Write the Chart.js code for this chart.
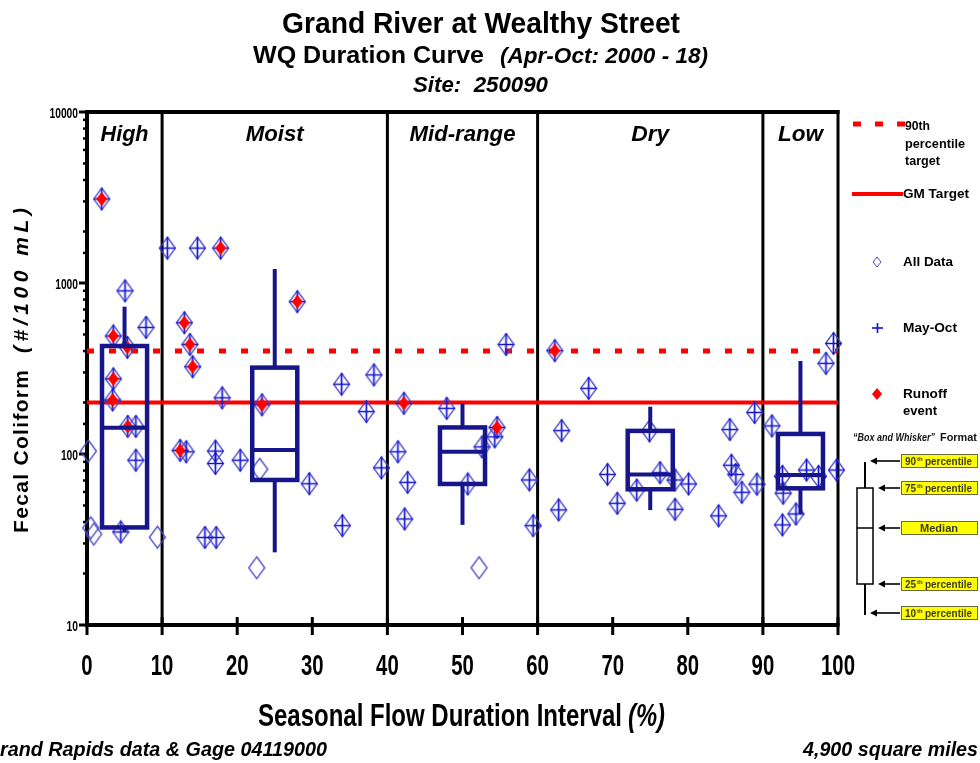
<!DOCTYPE html>
<html>
<head>
<meta charset="utf-8">
<title>Grand River at Wealthy Street - WQ Duration Curve</title>
<script src="https://cdn.jsdelivr.net/npm/chart.js@4/dist/chart.umd.min.js"></script>
<style>
  html, body { margin: 0; padding: 0; background: #fff; overflow: hidden; }
  canvas { display: block; }
</style>
</head>
<body>
<canvas id="wq" width="980" height="763"></canvas>
<script>
// ---- Samples: flow duration interval (%) and fecal coliform (#/100 mL) ----
const flowPct = [
  1.96, 5.06, 7.86, 3.5, 5.37, 3.5, 3.42, 5.42, 6.5, 0.18, 6.5, 0.5, 0.9, 4.5, 9.37,
  10.7, 14.7, 17.8, 12.96, 13.7, 14.07, 28.0, 18.0, 23.3, 12.4, 13.2, 17.1, 17.1, 20.4, 23.0,
  29.6, 15.7, 17.2, 22.6, 33.9, 38.2, 37.2, 39.2, 34.0,
  42.2, 41.4, 42.7, 42.3, 47.9, 54.6, 54.3, 52.6, 50.7, 52.2, 55.8, 58.9, 59.4,
  62.3, 63.2, 62.8, 66.8, 69.3, 70.6, 73.2, 74.9, 76.3, 78.3, 80.1, 78.3, 84.1, 85.6,
  88.9, 85.8, 86.4, 87.2, 89.2,
  91.2, 92.6, 92.7, 92.6, 94.4, 95.8, 97.4, 99.8, 99.4, 98.4
];
const fecal = [
  3100, 900, 550, 490, 420, 275, 207, 145, 145, 104, 92, 37, 34, 35, 32.6,
  1600, 1600, 1600, 586, 437, 324, 778, 213, 194, 105, 103, 104, 88, 92, 81.5,
  67, 32.5, 32.5, 21.6, 256, 290, 177, 83, 38.1,
  198, 103, 68.3, 41.7, 185, 143, 126, 110, 66.8, 21.6, 437, 70.5, 38.1,
  402, 137, 47.1, 242, 76, 51.5, 61.5, 136.5, 77.8, 70.5, 66.8, 47.5, 43.5, 139,
  175, 86, 76, 59.7, 66.6,
  146, 74, 59, 38.5, 44.6, 80.6, 74, 80.6, 443, 339
];
// 1 = sample collected May-Oct
const mayOct = [
  1, 1, 1, 1, 1, 1, 1, 1, 1, 0, 1, 0, 0, 1, 0,
  1, 1, 1, 1, 1, 1, 1, 1, 1, 1, 1, 1, 1, 1, 0,
  1, 1, 1, 0, 1, 1, 1, 1, 1,
  1, 1, 1, 1, 1, 1, 1, 1, 1, 0, 1, 1, 1,
  1, 1, 1, 1, 1, 1, 1, 1, 1, 1, 1, 1, 1, 1,
  1, 1, 1, 1, 1,
  1, 1, 1, 1, 1, 1, 1, 1, 1, 1
];
// 1 = runoff event
const runoff = [
  1, 0, 0, 1, 1, 1, 1, 1, 0, 0, 0, 0, 0, 0, 0,
  0, 0, 1, 1, 1, 1, 1, 0, 1, 1, 0, 0, 0, 0, 0,
  0, 0, 0, 0, 0, 0, 0, 0, 0,
  1, 0, 0, 0, 0, 1, 0, 0, 0, 0, 0, 0, 0,
  1, 0, 0, 0, 0, 0, 0, 0, 0, 0, 0, 0, 0, 0,
  0, 0, 0, 0, 0,
  0, 0, 0, 0, 0, 0, 0, 0, 0, 0
];

// ---- Box-and-whisker summaries per flow zone ----
const zoneNames  = ['High', 'Moist', 'Mid-range', 'Dry', 'Low'];
const zoneCenter = [5, 25, 50, 75, 95];
const zoneBreaks = [10, 40, 60, 90];
const p10 = [35, 26.6, 38.5, 47, 44.6];
const p25 = [37.2, 70.5, 66.8, 62.2, 63];
const p50 = [142.6, 105.5, 103, 76, 75.3];
const p75 = [428, 320, 143, 136.5, 131];
const p90 = [727, 1208, 198, 189, 350];

// ---- Targets ----
const gmTarget = 200;
const pct90Target = 400;

// ---- Axis ticks ----
const xTickStep = 10;
const yDecades = [10, 100, 1000, 10000];

const NAVY = '#16168a';
const FONT = "'Liberation Sans Narrow','Liberation Sans',Arial,sans-serif";
const WFONT = "'Liberation Sans',Arial,sans-serif";

// marker sprites
function sprite(w, h, paint) {
  const c = document.createElement('canvas');
  c.width = w; c.height = h;
  paint(c.getContext('2d'), w, h);
  return c;
}
const diamondImg = sprite(19, 25, (g, w, h) => {
  g.strokeStyle = '#4848c4'; g.lineWidth = 1.3;
  g.beginPath();
  g.moveTo(w / 2, 1.5); g.lineTo(w - 1.5, h / 2); g.lineTo(w / 2, h - 1.5); g.lineTo(1.5, h / 2);
  g.closePath(); g.stroke();
});
const crossImg = sprite(19, 25, (g, w, h) => {
  g.strokeStyle = '#1212d4'; g.lineWidth = 1.7;
  g.beginPath();
  g.moveTo(w / 2, 1.5); g.lineTo(w / 2, h - 1.5);
  g.moveTo(1.5, h / 2); g.lineTo(w - 1.5, h / 2);
  g.stroke();
});
const redImg = sprite(13, 16, (g, w, h) => {
  g.fillStyle = '#ff0000';
  g.beginPath();
  g.moveTo(w / 2, 1); g.lineTo(w - 1, h / 2); g.lineTo(w / 2, h - 1); g.lineTo(1, h / 2);
  g.closePath(); g.fill();
});

const samples = flowPct.map((x, i) => ({ x: x, y: fecal[i] }));

// text fitted to a given width (horizontal scaling)
function fitText(ctx, str, x, y, targetW, font, align, color) {
  ctx.save();
  ctx.font = font;
  ctx.fillStyle = color || '#000';
  const w = ctx.measureText(str).width;
  ctx.translate(x, y);
  ctx.scale(targetW / w, 1);
  ctx.textAlign = align || 'left';
  ctx.textBaseline = 'alphabetic';
  ctx.fillText(str, 0, 0);
  ctx.restore();
}

function line(ctx, x1, y1, x2, y2, w, color) {
  ctx.beginPath();
  ctx.moveTo(x1, y1); ctx.lineTo(x2, y2);
  ctx.lineWidth = w; ctx.strokeStyle = color;
  ctx.stroke();
}

// frame, zone dividers, ticks, boxes, texts and key
const framePlugin = {
  id: 'frame',
  beforeDatasetsDraw(chart) {
    const { ctx, chartArea: a, scales: { x, y } } = chart;
    ctx.save();
    ctx.lineCap = 'butt';
    zoneBreaks.forEach(b => {
      const px = x.getPixelForValue(b);
      line(ctx, px, a.top, px, a.bottom, 3, '#000');
    });
    line(ctx, a.right, a.top - 2, a.right, a.bottom, 3, '#000');
    line(ctx, a.left - 2, a.top, a.right + 1.5, a.top, 4, '#000');
    line(ctx, a.left, a.top - 2, a.left, a.bottom + 2, 4, '#000');
    line(ctx, a.left - 2, a.bottom, a.right + 1.5, a.bottom, 4, '#000');
    // x ticks
    x.ticks.forEach(t => {
      const px = x.getPixelForValue(t.value);
      line(ctx, px, a.bottom - 8, px, a.bottom + 10, 3, '#000');
    });
    // y ticks (decades long, others short)
    y.ticks.forEach(t => {
      const py = y.getPixelForValue(t.value);
      const major = yDecades.includes(t.value);
      line(ctx, a.left - (major ? 8 : 4), py, a.left, py, major ? 3 : 2.5, '#000');
    });
    ctx.restore();
  },
  afterDatasetsDraw(chart) {
    const { ctx, scales: { x, y } } = chart;
    ctx.save();
    ctx.strokeStyle = NAVY;
    ctx.lineCap = 'butt';
    zoneCenter.forEach((c, i) => {
      const xl = x.getPixelForValue(c - 3), xr = x.getPixelForValue(c + 3), xc = x.getPixelForValue(c);
      const y10 = y.getPixelForValue(p10[i]), y25 = y.getPixelForValue(p25[i]);
      const y50 = y.getPixelForValue(p50[i]), y75 = y.getPixelForValue(p75[i]);
      const y90 = y.getPixelForValue(p90[i]);
      line(ctx, xc, y75, xc, y90, 4, NAVY);
      line(ctx, xc, y25, xc, y10, 4, NAVY);
      ctx.lineWidth = 4.5;
      ctx.lineJoin = 'miter';
      ctx.strokeRect(xl, y75, xr - xl, y25 - y75);
      line(ctx, xl, y50, xr, y50, 4, NAVY);
    });
    ctx.restore();
  },
  afterDraw(chart) {
    const { ctx, chartArea: a, scales: { x, y } } = chart;
    ctx.save();
    // tick labels
    x.ticks.forEach(t => {
      const s = String(t.value);
      fitText(ctx, s, x.getPixelForValue(t.value), 675, s.length * 11.3, 'bold 30px ' + FONT, 'center');
    });
    y.ticks.forEach(t => {
      if (!yDecades.includes(t.value)) return;
      const s = String(t.value);
      fitText(ctx, s, a.left - 9, y.getPixelForValue(t.value) + 5.5, s.length * 5.7, 'bold 15px ' + FONT, 'right');
    });
    // zone names
    const zw = [48, 58, 106, 38, 45];
    zoneNames.forEach((n, i) => {
      fitText(ctx, n, x.getPixelForValue(zoneCenter[i]), 141, zw[i], 'italic bold 22px ' + WFONT, 'center');
    });
    // titles
    fitText(ctx, 'Grand River at Wealthy Street', 282, 33, 398, 'bold 30px ' + FONT, 'left');
    fitText(ctx, 'WQ Duration Curve', 253, 63, 231, 'bold 24px ' + FONT, 'left');
    fitText(ctx, '(Apr-Oct: 2000 - 18)', 500, 63, 208, 'italic bold 22px ' + FONT, 'left');
    fitText(ctx, 'Site:  250090', 413, 92, 135, 'italic bold 22px ' + FONT, 'left');
    // x axis title
    fitText(ctx, 'Seasonal Flow Duration Interval', 258, 726, 364, 'bold 32px ' + FONT, 'left');
    fitText(ctx, '(%)', 628, 726, 37, 'italic bold 32px ' + FONT, 'left');
    // footers
    ctx.font = 'italic bold 20px ' + FONT;
    const full = 'Grand Rapids data & Gage 04119000';
    const wFull = ctx.measureText(full).width, wG = ctx.measureText('G').width;
    const sx = 327 / (wFull - wG);
    fitText(ctx, full, -wG * sx, 756, wFull * sx, 'italic bold 20px ' + FONT, 'left');
    fitText(ctx, '4,900 square miles', 978, 756, 175, 'italic bold 20px ' + FONT, 'right');
    // y axis title (rotated)
    ctx.save();
    ctx.translate(28, 533);
    ctx.rotate(-Math.PI / 2);
    ctx.textBaseline = 'alphabetic';
    ctx.fillStyle = '#000';
    ctx.font = 'bold 21px ' + WFONT;
    let t1 = 'Fecal Coliform';
    let w1 = ctx.measureText(t1).width;
    ctx.letterSpacing = ((163 - w1) / (t1.length - 1)).toFixed(2) + 'px';
    ctx.fillText(t1, 0, 0);
    ctx.letterSpacing = '0px';
    ctx.font = 'italic bold 21px ' + WFONT;
    let t2 = '(#/100 mL)';
    let w2 = ctx.measureText(t2).width;
    ctx.letterSpacing = ((145 - w2) / (t2.length - 1)).toFixed(2) + 'px';
    ctx.fillText(t2, 180, 0);
    ctx.restore();

    // ---- legend ----
    ctx.lineCap = 'butt';
    ctx.save();
    ctx.setLineDash([8, 14]);
    line(ctx, 853, 124, 905, 124, 5, '#ff0000');
    ctx.restore();
    const lf = 'bold 13px ' + FONT;
    fitText(ctx, '90th', 905, 130, 25, lf);
    fitText(ctx, 'percentile', 905, 148, 60, lf);
    fitText(ctx, 'target', 905, 165, 35, lf);
    line(ctx, 852, 194, 903, 194, 4, '#ff0000');
    fitText(ctx, 'GM Target', 903, 198, 66, lf);
    // All Data
    ctx.beginPath();
    ctx.moveTo(877, 257); ctx.lineTo(881, 262); ctx.lineTo(877, 267); ctx.lineTo(873, 262); ctx.closePath();
    ctx.lineWidth = 1; ctx.strokeStyle = '#4848c4'; ctx.stroke();
    fitText(ctx, 'All Data', 903, 266, 50, lf);
    // May-Oct
    line(ctx, 872, 328, 883, 328, 1.6, '#1212d4');
    line(ctx, 877.5, 323, 877.5, 333, 1.6, '#1212d4');
    fitText(ctx, 'May-Oct', 903, 332, 54, lf);
    // Runoff
    ctx.beginPath();
    ctx.moveTo(877, 388); ctx.lineTo(882, 394); ctx.lineTo(877, 400); ctx.lineTo(872, 394); ctx.closePath();
    ctx.fillStyle = '#ff0000'; ctx.fill();
    fitText(ctx, 'Runoff', 903, 398, 44, lf);
    fitText(ctx, 'event', 903, 415, 34, lf);

    // box and whisker key
    fitText(ctx, '\u201CBox and Whisker\u201D', 853, 441, 82, 'italic bold 10px ' + WFONT, 'left', '#111');
    fitText(ctx, 'Format', 940, 441, 37, 'bold 10px ' + WFONT, 'left', '#111');
    line(ctx, 865, 462, 865, 615, 2, '#000');
    ctx.fillStyle = '#fff';
    ctx.fillRect(857, 488, 16, 96);
    ctx.lineWidth = 1.5; ctx.strokeStyle = '#000';
    ctx.strokeRect(857, 488, 16, 96);
    line(ctx, 857, 528, 873, 528, 1.5, '#000');
    const keys = [
      { y: 461, tip: 870, sup: '90', rest: 'percentile' },
      { y: 488, tip: 878, sup: '75', rest: 'percentile' },
      { y: 528, tip: 878, sup: null, rest: 'Median' },
      { y: 584, tip: 878, sup: '25', rest: 'percentile' },
      { y: 613, tip: 870, sup: '10', rest: 'percentile' }
    ];
    keys.forEach(k => {
      line(ctx, k.tip + 5, k.y, 900, k.y, 1.6, '#000');
      ctx.beginPath();
      ctx.moveTo(k.tip, k.y); ctx.lineTo(k.tip + 7, k.y - 3.5); ctx.lineTo(k.tip + 7, k.y + 3.5); ctx.closePath();
      ctx.fillStyle = '#000'; ctx.fill();
      ctx.fillStyle = '#ffff00';
      ctx.fillRect(901, k.y - 6.5, 76, 13);
      ctx.lineWidth = 1; ctx.strokeStyle = '#6b6b3a';
      ctx.strokeRect(901.5, k.y - 6.5, 76, 13);
      ctx.fillStyle = '#3a3a2a';
      if (k.sup) {
        ctx.font = 'bold 10px ' + WFONT;
        ctx.textAlign = 'left'; ctx.textBaseline = 'alphabetic';
        ctx.fillText(k.sup, 905, k.y + 4);
        ctx.font = 'bold 6px ' + WFONT;
        ctx.fillText('th', 917, k.y);
        fitText(ctx, k.rest, 925, k.y + 4, 47, 'bold 10px ' + WFONT, 'left', '#3a3a2a');
      } else {
        fitText(ctx, k.rest, 939, k.y + 4, 38, 'bold 10px ' + WFONT, 'center', '#3a3a2a');
      }
    });
    ctx.restore();
  }
};

const chart = new Chart(document.getElementById('wq'), {
  type: 'scatter',
  data: {
    datasets: [
      {
        label: 'Runoff event',
        data: samples.filter((_, i) => runoff[i]),
        pointStyle: redImg, pointRadius: 6, order: 1, clip: false
      },
      {
        label: 'May-Oct',
        data: samples.filter((_, i) => mayOct[i]),
        pointStyle: crossImg, pointRadius: 6, order: 2, clip: false
      },
      {
        label: 'All Data',
        data: samples,
        pointStyle: diamondImg, pointRadius: 6, order: 3, clip: false
      },
      {
        label: 'GM Target',
        data: [{ x: 0, y: gmTarget }, { x: 100, y: gmTarget }],
        showLine: true, borderColor: '#ff0000', borderWidth: 4, pointRadius: 0, order: 5
      },
      {
        label: '90th percentile target',
        data: [{ x: 0, y: pct90Target }, { x: 100, y: pct90Target }],
        showLine: true, borderColor: '#ff0000', borderWidth: 5, borderDash: [7, 15],
        borderCapStyle: 'butt', pointRadius: 0, order: 4
      }
    ]
  },
  options: {
    responsive: false,
    animation: false,
    events: [],
    layout: { padding: { left: 0, right: 142, top: 112, bottom: 0 } },
    plugins: {
      legend: { display: false },
      tooltip: { enabled: false },
      title: { display: false }
    },
    scales: {
      x: {
        type: 'linear', min: 0, max: 100,
        afterFit: s => { s.height = 138; },
        ticks: { display: false, stepSize: xTickStep },
        grid: { display: false, drawTicks: false },
        border: { display: false }
      },
      y: {
        type: 'logarithmic', min: 10, max: 10000,
        afterFit: s => { s.width = 87; },
        ticks: { display: false, autoSkip: false },
        grid: { display: false, drawTicks: false },
        border: { display: false }
      }
    }
  },
  plugins: [framePlugin]
});
</script>
</body>
</html>
